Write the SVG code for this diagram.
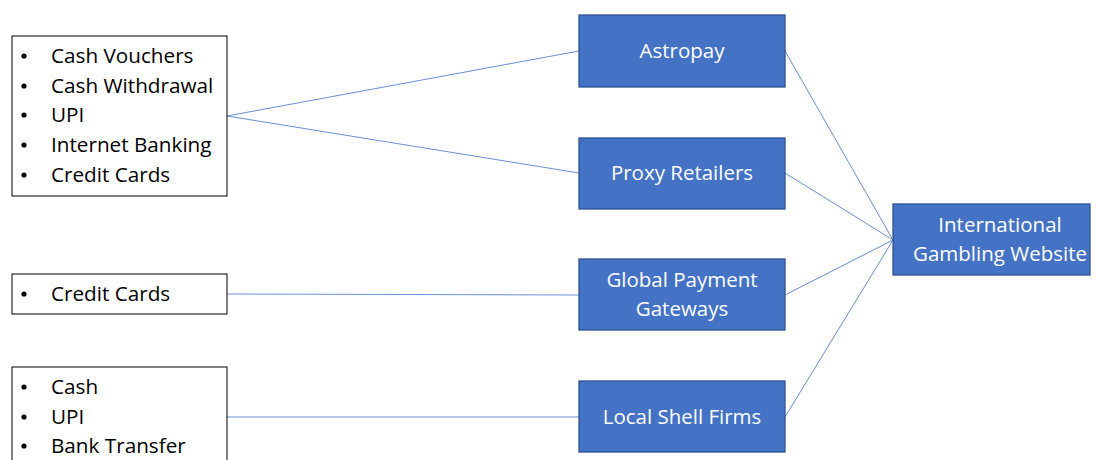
<svg xmlns="http://www.w3.org/2000/svg" width="1097" height="460" viewBox="0 0 1097 460">
<style>
.list{fill:#fff;stroke:#000;stroke-width:1}
.node{fill:#4472C4;stroke:#2F528F;stroke-width:1.3}
.t{font-family:"Open Sans","Liberation Sans",sans-serif;font-size:20.7px;fill:#000}
.w{font-family:"Open Sans","Liberation Sans",sans-serif;font-size:20.5px;fill:#fff;text-anchor:middle}
.c{stroke:#4472C4;stroke-width:0.8;fill:none}
.b{fill:#000}
</style>
<rect width="1097" height="460" fill="#fff"/>
<g id="connectors">
<line class="c" x1="227" y1="116" x2="579" y2="51"/>
<line class="c" x1="227" y1="116" x2="579" y2="173"/>
<line class="c" x1="227" y1="294" x2="579" y2="295"/>
<line class="c" x1="227" y1="417" x2="579" y2="417"/>
<line class="c" x1="785" y1="51" x2="893" y2="240"/>
<line class="c" x1="785" y1="173" x2="893" y2="240"/>
<line class="c" x1="785" y1="295" x2="893" y2="240"/>
<line class="c" x1="785" y1="417" x2="893" y2="240"/>
</g>
<g id="list1">
<rect class="list" x="12" y="36" width="215" height="160"/>
<circle class="b" cx="24" cy="56" r="2.6"/><text class="t" x="51" y="63">Cash Vouchers</text>
<circle class="b" cx="24" cy="86" r="2.6"/><text class="t" x="51" y="93">Cash Withdrawal</text>
<circle class="b" cx="24" cy="115" r="2.6"/><text class="t" x="51" y="122">UPI</text>
<circle class="b" cx="24" cy="145" r="2.6"/><text class="t" x="51" y="152">Internet Banking</text>
<circle class="b" cx="24" cy="175" r="2.6"/><text class="t" x="51" y="182">Credit Cards</text>
</g>
<g id="list2">
<rect class="list" x="12" y="274" width="215" height="40"/>
<circle class="b" cx="24" cy="294" r="2.6"/><text class="t" x="51" y="301">Credit Cards</text>
</g>
<g id="list3">
<rect class="list" x="12" y="367" width="215" height="100"/>
<circle class="b" cx="24" cy="387" r="2.6"/><text class="t" x="51" y="394">Cash</text>
<circle class="b" cx="24" cy="417" r="2.6"/><text class="t" x="51" y="424">UPI</text>
<circle class="b" cx="24" cy="446" r="2.6"/><text class="t" x="51" y="453">Bank Transfer</text>
</g>
<g id="astropay">
<rect class="node" x="579" y="15" width="206" height="72"/>
<text class="w" x="682" y="58">Astropay</text>
</g>
<g id="proxy">
<rect class="node" x="579" y="138" width="206" height="71"/>
<text class="w" x="682" y="180">Proxy Retailers</text>
</g>
<g id="global">
<rect class="node" x="579" y="259" width="206" height="71"/>
<text class="w" x="682" y="287">Global Payment</text>
<text class="w" x="682" y="316">Gateways</text>
</g>
<g id="local">
<rect class="node" x="579" y="381" width="206" height="71"/>
<text class="w" x="682" y="424">Local Shell Firms</text>
</g>
<g id="intl">
<rect class="node" x="893" y="204" width="197" height="71"/>
<text class="w" x="1000" y="232">International</text>
<text class="w" x="1000" y="261">Gambling Website</text>
</g>
</svg>
